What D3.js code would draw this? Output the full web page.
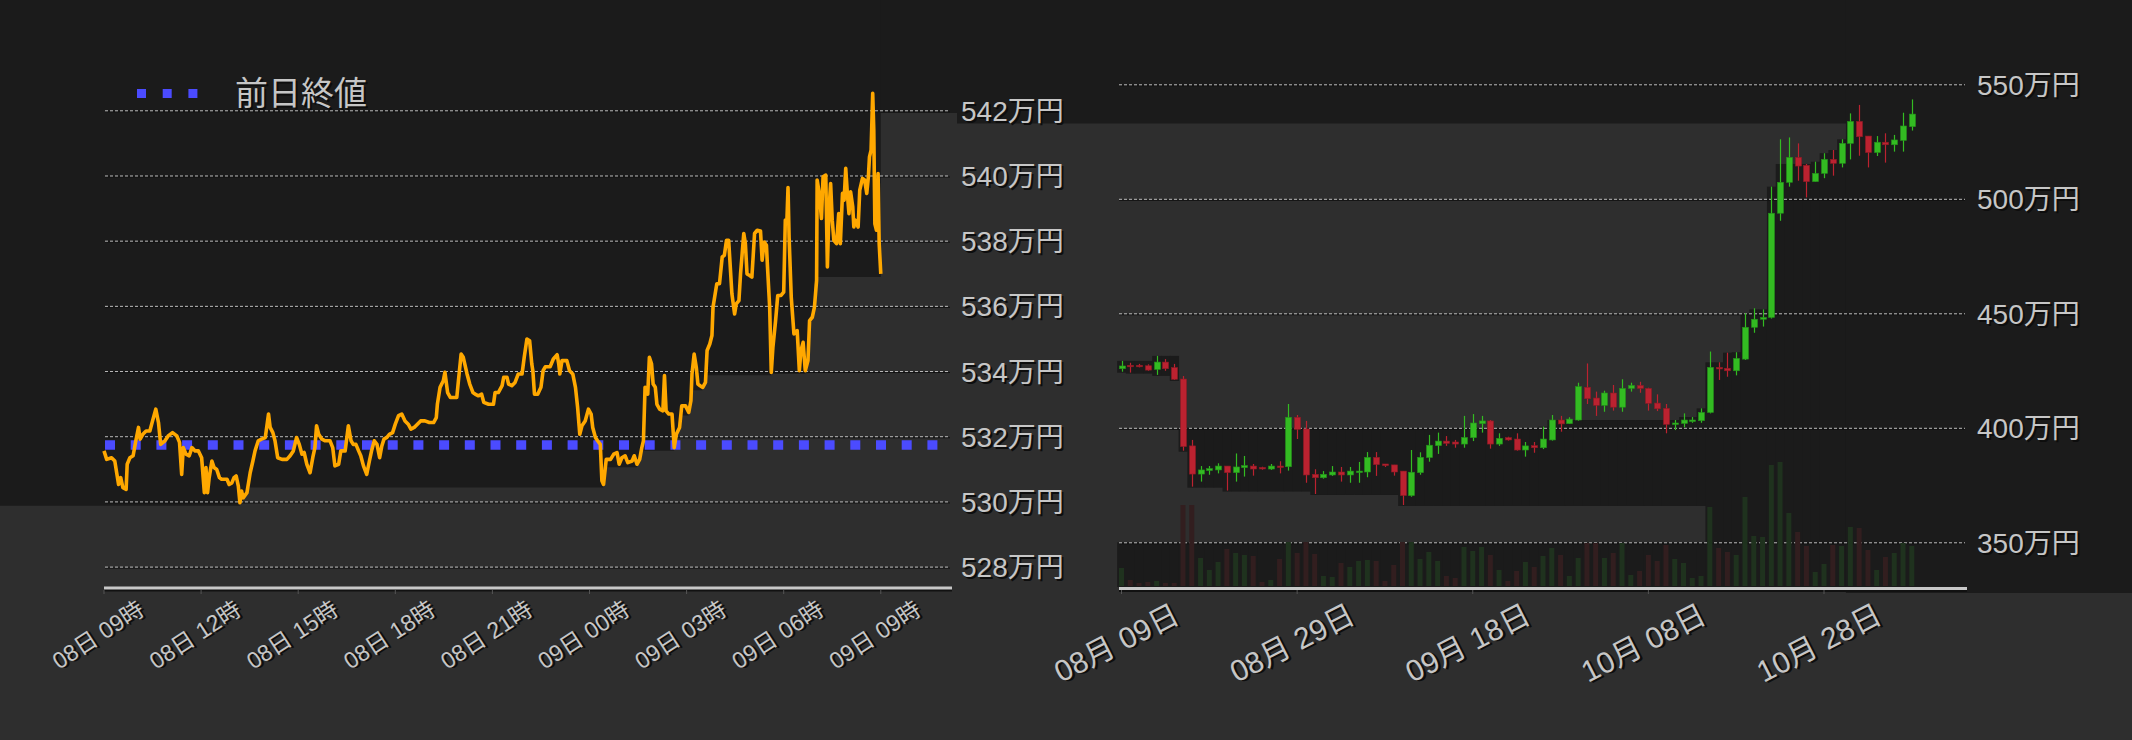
<!DOCTYPE html>
<html><head><meta charset="utf-8">
<script src="https://cdn.jsdelivr.net/npm/d3@7"></script>
<style>
html,body{margin:0;padding:0;background:#2e2e2e;overflow:hidden;}
svg{display:block;}
</style></head><body>
<svg id="chart" width="2132" height="740"></svg>
<script>
// ================= DATA =================
// Intraday (left): minutes after 08日 09時, price in 万円
const intradayStart = [2023, 10, 8, 9, 0];
const intradaySeries = [[0,531.55],[5,531.29],[14,531.34],[20,531.24],[27,530.52],[31,530.73],[35,530.42],[41,530.37],[43,531.14],[48,531.34],[54,531.40],[59,531.86],[64,532.27],[67,531.91],[72,532.06],[78,532.16],[85,532.16],[90,532.47],[96,532.83],[101,532.42],[105,531.75],[113,531.86],[119,532.01],[127,532.11],[135,532.01],[140,531.81],[144,530.83],[147,531.65],[152,531.45],[158,531.40],[163,531.65],[169,531.55],[175,531.55],[181,531.34],[186,530.27],[189,531.04],[192,530.27],[195,530.73],[200,531.24],[204,531.04],[209,530.98],[214,530.73],[218,530.68],[228,530.68],[232,530.52],[237,530.57],[241,530.73],[245,530.78],[249,530.47],[252,529.96],[255,530.32],[258,530.11],[265,530.27],[271,530.88],[276,531.24],[280,531.55],[286,531.86],[292,531.91],[299,531.96],[305,532.68],[308,532.27],[313,532.11],[317,531.86],[322,531.34],[330,531.29],[339,531.29],[345,531.40],[351,531.55],[357,531.96],[362,531.75],[367,531.45],[371,531.50],[376,531.14],[382,530.88],[387,531.34],[391,531.65],[394,532.32],[398,532.06],[404,531.91],[410,531.86],[419,531.86],[424,531.65],[428,531.09],[435,531.14],[439,531.55],[447,531.55],[453,532.32],[458,531.86],[462,531.75],[467,531.75],[472,531.55],[476,531.40],[481,531.09],[487,530.83],[492,531.24],[496,531.55],[501,531.86],[506,531.75],[511,531.34],[515,531.70],[519,531.91],[524,531.96],[529,532.06],[535,532.11],[540,532.37],[546,532.63],[552,532.68],[558,532.47],[564,532.37],[569,532.22],[575,532.27],[581,532.37],[587,532.47],[595,532.47],[603,532.42],[611,532.42],[616,532.57],[618,532.98],[623,533.50],[629,533.70],[632,533.96],[637,533.34],[642,533.19],[654,533.19],[657,533.70],[662,534.52],[666,534.42],[673,533.91],[678,533.60],[684,533.34],[688,533.29],[694,533.24],[700,533.29],[704,533.04],[713,532.98],[722,532.98],[725,533.34],[731,533.34],[738,533.55],[741,533.81],[747,533.81],[750,533.60],[756,533.55],[762,533.65],[768,533.91],[775,533.91],[779,534.42],[784,534.98],[789,534.93],[793,534.22],[795,534.01],[798,533.29],[804,533.29],[810,533.50],[814,534.01],[818,534.13],[827,534.13],[833,534.37],[840,534.50],[843,534.22],[845,533.91],[849,534.32],[858,534.32],[863,534.01],[869,533.91],[874,533.50],[878,532.88],[882,532.06],[886,532.32],[892,532.47],[898,532.83],[903,532.68],[906,532.27],[911,531.96],[915,531.86],[920,531.75],[923,530.63],[926,530.52],[931,531.29],[939,531.29],[945,531.45],[951,531.50],[955,531.14],[960,531.34],[966,531.40],[971,531.19],[979,531.24],[983,531.40],[988,531.14],[993,531.29],[997,531.65],[1000,531.86],[1003,533.50],[1008,533.29],[1011,534.42],[1015,534.22],[1018,533.60],[1022,533.50],[1025,532.98],[1030,532.83],[1036,532.78],[1039,533.86],[1042,532.78],[1047,532.68],[1053,532.68],[1057,531.65],[1061,532.06],[1067,532.27],[1071,532.93],[1078,532.93],[1084,532.73],[1088,533.09],[1090,533.91],[1094,534.52],[1098,534.11],[1101,533.60],[1105,533.55],[1110,533.50],[1115,533.65],[1118,534.63],[1123,534.83],[1127,535.09],[1129,535.96],[1133,536.37],[1136,536.68],[1141,536.68],[1146,537.50],[1150,537.55],[1154,538.01],[1158,538.01],[1161,537.19],[1164,536.37],[1169,535.75],[1172,536.06],[1177,536.16],[1180,536.98],[1183,537.60],[1186,538.22],[1189,537.91],[1192,536.98],[1197,536.93],[1201,536.88],[1206,538.22],[1211,538.32],[1217,538.30],[1220,537.40],[1224,537.96],[1228,537.86],[1230,537.19],[1234,535.96],[1237,533.96],[1240,534.73],[1245,535.55],[1249,536.32],[1255,536.32],[1260,536.42],[1263,538.63],[1266,538.63],[1268,539.63],[1270,538.11],[1274,536.27],[1279,535.14],[1285,535.24],[1289,534.01],[1292,534.63],[1296,534.88],[1300,534.01],[1305,534.32],[1308,535.55],[1313,535.65],[1317,535.96],[1321,536.78],[1322,539.86],[1326,539.45],[1330,538.68],[1333,539.96],[1338,540.01],[1341,537.19],[1344,538.93],[1347,539.75],[1350,538.63],[1353,538.01],[1358,537.91],[1362,538.83],[1365,537.91],[1369,539.45],[1372,539.24],[1375,540.22],[1378,539.45],[1381,538.83],[1384,539.50],[1388,539.04],[1390,538.42],[1393,538.63],[1398,538.42],[1401,539.55],[1406,539.91],[1410,539.86],[1414,539.45],[1417,539.96],[1419,540.57],[1422,540.78],[1425,542.52],[1427,541.39],[1429,538.52],[1432,538.32],[1435,540.06],[1437,537.91],[1440,536.98]];
const prevClose = 531.73;              // 前日終値
const legendLabel = "前日終値";
const intradayTickHours = [0, 3, 6, 9, 12, 15, 18, 21, 24];
const leftYTicks = [528, 530, 532, 534, 536, 538, 540, 542];

// Daily (right): one candle per day from 2023-08-09, prices in 万円
const dailyStart = [2023, 7, 9];
const dailyOpen  = [425.8,427.3,427.3,427.1,425.5,428.7,426.3,421.3,392.1,379.8,381.3,381.6,383.3,380.4,382.6,383.3,382.7,382.0,383.3,383.0,404.6,399.5,379.7,378.2,379.4,380.7,379.4,380.9,380.7,387.1,384.2,383.8,381.1,370.4,380.4,387.0,392.2,394.2,393.8,392.9,395.7,401.8,403.0,392.9,395.7,395.1,390.3,392.2,391.3,394.7,403.4,401.8,403.4,417.7,413.0,409.8,415.2,409.0,417.2,418.5,417.2,410.8,408.5,401.5,401.9,403.1,403.1,406.7,426.4,426.0,424.9,430.0,443.9,447.4,448.2,493.7,507.2,518.1,514.6,507.5,511.1,517.2,515.5,524.2,533.8,527.4,520.2,524.7,523.6,525.5,531.5];
const dailyHigh  = [429.2,428.4,427.9,427.7,431.4,430.0,427.9,422.6,394.7,383.3,383.3,384.5,383.3,388.8,387.7,384.2,383.0,384.2,385.4,410.4,405.6,403.0,381.9,381.1,383.3,382.9,382.9,385.1,389.4,389.4,384.2,383.8,381.1,390.3,389.3,396.9,397.9,396.4,394.7,405.2,406.0,405.2,403.4,397.6,396.1,397.6,393.8,393.8,400.5,405.6,405.2,404.6,419.7,428.1,415.8,416.2,418.7,421.2,419.7,420.1,417.5,414.6,410.4,403.4,406.3,404.7,408.5,433.3,428.6,432.8,433.0,450.0,452.2,451.7,505.3,526.0,526.8,524.2,515.2,516.2,519.9,521.3,526.0,537.3,541.0,527.4,527.4,528.6,527.9,537.6,543.4];
const dailyLow   = [424.5,424.1,426.4,424.9,423.1,424.9,420.9,390.0,374.3,376.5,379.5,380.1,372.6,376.5,378.7,379.1,381.7,381.6,380.1,381.3,395.1,376.0,371.1,377.8,379.0,376.5,376.0,376.0,378.4,379.0,382.9,379.1,366.3,369.9,379.5,385.2,388.6,392.1,391.3,391.3,394.2,397.9,390.9,392.1,394.4,390.0,387.4,389.1,390.7,394.4,398.3,401.7,403.1,410.4,405.2,407.0,407.5,407.0,415.8,415.3,407.5,407.3,397.6,399.0,400.2,402.2,402.2,406.3,420.9,422.3,422.9,429.6,441.5,444.2,447.7,490.4,505.3,507.9,500.6,507.5,509.0,510.1,513.7,517.2,518.8,513.7,518.7,515.8,520.6,520.6,529.8];
const dailyClose = [427.0,426.7,426.7,425.2,428.7,425.8,421.2,391.8,379.8,381.6,382.2,383.3,380.4,382.9,383.5,382.0,382.2,383.3,382.9,404.6,399.3,379.4,378.2,379.7,380.7,379.4,381.1,381.1,387.1,383.9,383.5,380.7,370.4,380.6,387.1,392.4,394.2,393.2,392.9,395.8,402.1,403.0,392.9,395.4,394.7,390.3,392.1,391.3,395.1,403.4,401.7,403.8,418.0,412.7,409.8,415.2,409.0,417.2,418.5,417.2,410.7,408.3,401.5,402.1,403.4,403.4,406.7,426.4,425.7,424.9,430.3,443.9,447.4,448.2,493.7,507.2,518.1,514.3,507.5,511.1,517.2,515.5,524.2,533.8,527.1,520.2,524.7,523.6,525.7,531.8,537.0];
const dailyVolume = [18,6,3,4,5,3,3,81,81,28,16,24,37,33,31,30,4,6,27,44,33,44,32,10,9,23,19,25,26,25,5,21,44,44,27,34,25,10,8,39,35,39,31,16,5,15,24,19,30,38,31,10,28,43,43,28,33,43,11,15,31,25,41,27,23,8,10,79,38,34,31,89,50,49,121,124,73,54,40,14,22,41,40,59,58,36,16,29,33,43,40];
const dailyTickDates = ["2023-08-09","2023-08-29","2023-09-18","2023-10-08","2023-10-28"];
const rightYTicks = [350, 400, 450, 500, 550];

// ================= STYLE =================
const COL = {dark:'#1b1b1b', light:'#2e2e2e', text:'#c6c6c6', shadow:'#0d0d0d', grid:'#bcbcbc',
  orange:'#ffa800', blue:'#4b4bff', up:'#33bb22', upEdge:'#23901a', down:'#bb2230', downEdge:'#8e1a25',
  upVol:'#1f321e', downVol:'#321e1f'};
const FONT = '"Liberation Sans","Noto Sans CJK JP",sans-serif';

const svg = d3.select('#chart');
const bg = svg.append('g'), gridG = svg.append('g'), markG = svg.append('g'), axG = svg.append('g');

// ================= SCALES =================
const t0 = new Date(...intradayStart);
const atMin = m => new Date(t0.getTime() + m * 60000);
const xL = d3.scaleTime().domain([t0, atMin(26.2 * 60)]).range([104, 952]);
const yL = d3.scaleLinear().domain([528, 542]).range([566.6, 110.3]);

const d0 = new Date(...dailyStart);
const dayAt = i => new Date(dailyStart[0], dailyStart[1], dailyStart[2] + i);
const xRref = d3.scaleTime().domain([d0, new Date(2023, 9, 28)]).range([1121.5, 1824]);
const xR = d3.scaleTime().domain([xRref.invert(1119), xRref.invert(1967)]).range([1119, 1967]);
const yR = d3.scaleLinear().domain([350, 550]).range([542.3, 84.3]);
const yV = d3.scaleLinear().domain([0, 125]).range([586, 461]);
const step = xR(dayAt(1)) - xR(dayAt(0));

const line = intradaySeries.map(d => ({t: atMin(d[0]), v: d[1]}));
const candles = dailyOpen.map((o, i) => ({t: dayAt(i), o, h: dailyHigh[i], l: dailyLow[i], c: dailyClose[i], vol: dailyVolume[i]}));

// ================= BACKGROUND SHADING =================
bg.append('rect').attr('x', 0).attr('y', 0).attr('width', 2132).attr('height', 113).attr('fill', COL.dark);
bg.append('rect').attr('x', 957).attr('y', 0).attr('width', 900).attr('height', 123.5).attr('fill', COL.dark);
{
  const n = line.length, rmin = new Array(n);
  rmin[n - 1] = line[n - 1].v;
  for (let k = n - 2; k >= 0; k--) rmin[k] = Math.min(line[k].v, rmin[k + 1]);
  const pts = [[0, 0], [0, yL(rmin[0]) + 3], [xL(line[0].t), yL(rmin[0]) + 3]];
  for (let k = 0; k < n - 1; k++) {
    pts.push([xL(line[k].t), yL(rmin[k + 1]) + 3]);
    pts.push([xL(line[k + 1].t), yL(rmin[k + 1]) + 3]);
  }
  pts.push([xL(line[n - 1].t), 0]);
  bg.append('path').attr('d', 'M' + pts.map(p => p.join(',')).join('L') + 'Z').attr('fill', COL.dark);
}
{
  const n = candles.length;
  const runMinLow = [], runMaxHigh = [], futMinHigh = new Array(n);
  let a = Infinity, b = -Infinity;
  candles.forEach(d => { a = Math.min(a, d.l); b = Math.max(b, d.h); runMinLow.push(a); runMaxHigh.push(b); });
  futMinHigh[n - 1] = candles[n - 1].h;
  for (let i = n - 2; i >= 0; i--) futMinHigh[i] = Math.min(candles[i].h, futMinHigh[i + 1]);
  const firstNewHigh = runMaxHigh.findIndex((v, i) => i > 10 && v > runMaxHigh[i - 1]);
  const topBandY = 123.5;
  candles.forEach((d, i) => {
    const x0 = xR(d.t) - step / 2, x1 = xR(d.t) + step / 2;
    let top = i < 7 ? yR(runMaxHigh[i]) : Math.min(yR(400), yR(futMinHigh[i]));
    if (top <= topBandY) return;
    const bottom = i < firstNewHigh ? yR(runMinLow[i]) + 1 : 587;
    bg.append('rect').attr('x', x0).attr('y', top).attr('width', x1 - x0 + 0.5).attr('height', Math.max(0, bottom - top)).attr('fill', COL.dark);
    if (i < firstNewHigh) bg.append('rect').attr('x', x0).attr('y', yR(350)).attr('width', x1 - x0 + 0.5).attr('height', 587 - yR(350)).attr('fill', COL.dark);
  });
  const firstAbove = candles.findIndex(d => yR(d.h) < topBandY);
  const xa = xR(candles[firstAbove].t) - step / 2;
  bg.append('rect').attr('x', xa).attr('y', 0).attr('width', 2132 - xa).attr('height', 593).attr('fill', COL.dark);
}

// ================= GRID =================
function hgrid(vals, y, x0, x1) {
  vals.forEach(v => {
    gridG.append('line').attr('x1', x0).attr('x2', x1).attr('y1', y(v) + 1.5).attr('y2', y(v) + 1.5)
      .attr('stroke', '#111').attr('stroke-width', 1);
    gridG.append('line').attr('x1', x0).attr('x2', x1).attr('y1', y(v) + 0.5).attr('y2', y(v) + 0.5)
      .attr('stroke', COL.grid).attr('stroke-width', 1).attr('stroke-dasharray', '3,2');
  });
}
hgrid(leftYTicks, yL, 105, 950);
hgrid(rightYTicks, yR, 1119, 1965);

// ================= RIGHT: VOLUME + CANDLES =================
markG.append('g').selectAll('rect').data(candles).join('rect')
  .attr('x', d => xR(d.t) - 2.5).attr('width', 5)
  .attr('y', d => yV(d.vol)).attr('height', d => yV(0) - yV(d.vol))
  .attr('fill', d => d.c >= d.o ? COL.upVol : COL.downVol);
const cg = markG.append('g').selectAll('g').data(candles).join('g');
cg.append('line').attr('x1', d => Math.round(xR(d.t)) + 0.5).attr('x2', d => Math.round(xR(d.t)) + 0.5)
  .attr('y1', d => yR(d.h)).attr('y2', d => yR(d.l))
  .attr('stroke', d => d.c >= d.o ? COL.up : COL.down).attr('stroke-width', 1.2);
cg.append('rect').attr('x', d => Math.round(xR(d.t)) - 2.5).attr('width', 6)
  .attr('y', d => yR(Math.max(d.o, d.c))).attr('height', d => Math.max(1.5, Math.abs(yR(d.o) - yR(d.c))))
  .attr('fill', d => d.c >= d.o ? COL.up : COL.down)
  .attr('stroke', d => d.c >= d.o ? COL.upEdge : COL.downEdge).attr('stroke-width', 0.6);

// ================= LEFT: PREV CLOSE + LINE =================
markG.append('line').attr('x1', xL(line[0].t) + 1).attr('x2', 945).attr('y1', yL(prevClose)).attr('y2', yL(prevClose))
  .attr('stroke', COL.blue).attr('stroke-width', 9.5).attr('stroke-dasharray', '10,15.7');
markG.append('path').datum(line)
  .attr('d', d3.line().x(d => xL(d.t)).y(d => yL(d.v)))
  .attr('fill', 'none').attr('stroke', COL.orange).attr('stroke-width', 3.6).attr('stroke-linejoin', 'round');

// ================= AXES & LABELS =================
function label(g, x, y, txt, size, anchor, rot) {
  const t = g.append('g').attr('transform', `translate(${x},${y})` + (rot ? ` rotate(${rot})` : ''));
  t.append('text').attr('x', 2).attr('y', 2).text(txt).attr('fill', COL.shadow)
    .attr('font-size', size).attr('font-family', FONT).attr('text-anchor', anchor).attr('dominant-baseline', 'central');
  t.append('text').text(txt).attr('fill', COL.text)
    .attr('font-size', size).attr('font-family', FONT).attr('text-anchor', anchor).attr('dominant-baseline', 'central');
}
leftYTicks.forEach(v => label(axG, 961, yL(v) + 1, v + '万円', 28, 'start'));
rightYTicks.forEach(v => label(axG, 1977, yR(v) + 1, v + '万円', 28, 'start'));

axG.append('line').attr('x1', 104).attr('x2', 952).attr('y1', 590).attr('y2', 590).attr('stroke', '#111').attr('stroke-width', 3);
axG.append('line').attr('x1', 104).attr('x2', 952).attr('y1', 588).attr('y2', 588).attr('stroke', '#c8c8c8').attr('stroke-width', 3);
axG.append('line').attr('x1', 1119).attr('x2', 1967).attr('y1', 590.5).attr('y2', 590.5).attr('stroke', '#111').attr('stroke-width', 3);
axG.append('line').attr('x1', 1119).attr('x2', 1967).attr('y1', 588.5).attr('y2', 588.5).attr('stroke', '#c8c8c8').attr('stroke-width', 3);

const fmtL = d3.timeFormat('%d日 %H時');
intradayTickHours.forEach(h => {
  const t = atMin(h * 60), x = xL(t);
  axG.append('line').attr('x1', x).attr('x2', x).attr('y1', 590).attr('y2', 594).attr('stroke', '#555');
  label(axG, x - 6, 635, fmtL(t), 23, 'middle', -33);
});
const fmtR = d3.timeFormat('%m月 %d日');
dailyTickDates.forEach(s => {
  const p = s.split('-').map(Number), t = new Date(p[0], p[1] - 1, p[2]), x = xR(t);
  axG.append('line').attr('x1', x).attr('x2', x).attr('y1', 590).attr('y2', 594).attr('stroke', '#555');
  label(axG, x - 5, 643, fmtR(t), 30, 'middle', -27);
});

[0, 1, 2].forEach(k => axG.append('rect').attr('x', 137 + k * 25.7).attr('y', 89).attr('width', 9).attr('height', 9).attr('fill', COL.blue));
label(axG, 235, 93, legendLabel, 33, 'start');
</script>
</body></html>
